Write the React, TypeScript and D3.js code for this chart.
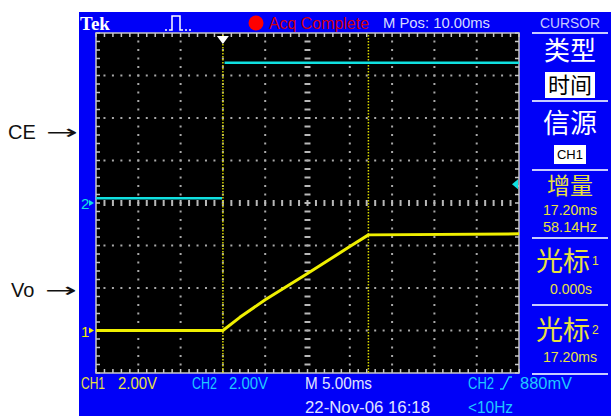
import React from 'react';
import * as d3 from 'd3';

// time base: 5 ms/div, 10 div, cursor 1 at 0
const timeDomain = [-15, 35];
const divDomain = [-4, 4];
const voltsPerDiv = 2;
const ch1Offset = -3; // divisions from centre
const ch2Offset = 0;

const ch1Times = [-15, 0, 2, 5, 10, 15, 17.2, 35];
const ch1Volts = [0, 0, 0.62, 1.45, 2.68, 3.95, 4.5, 4.55];
// CH2 edge is too fast to show, so low and high parts are separate runs
const ch2LowTimes = [-15, -0.1];
const ch2LowVolts = [0.22, 0.22];
const ch2HighTimes = [0.2, 35];
const ch2HighVolts = [6.6, 6.6];
const cursorTimes = [0, 17.2];
const triggerLevel = 0.88;

const W = 613;
const H = 416;
const plot = { left: 96, right: 519, top: 33, bottom: 373 };

const BLUE = '#0000f8';
const TRACE_Y = '#f0f000';
const TRACE_C = '#10e0e0';
const MENU_Y = '#e8e040';
const READOUT_C = '#20c8ff';

const App: React.FC = () => {
  const x = d3.scaleLinear().domain(timeDomain).range([plot.left, plot.right]);
  const yDiv = d3.scaleLinear().domain(divDomain).range([plot.bottom, plot.top]);
  const y1 = (v: number) => yDiv(v / voltsPerDiv + ch1Offset);
  const y2 = (v: number) => yDiv(v / voltsPerDiv + ch2Offset);

  const line = d3.line<[number, number]>();
  const ch1Path = line(ch1Times.map((t, i) => [x(t), y1(ch1Volts[i])]));
  const ch2Low = line(ch2LowTimes.map((t, i) => [x(t), y2(ch2LowVolts[i])]));
  const ch2High = line(ch2HighTimes.map((t, i) => [x(t), y2(ch2HighVolts[i])]));

  const xMinor = d3.range(0, 51).map(i => timeDomain[0] + i); // 1 ms = 1/5 div
  const yMinor = d3.range(0, 41).map(i => divDomain[0] + i / 5);
  const xMajor = d3.range(1, 10).map(i => timeDomain[0] + i * 5);
  const yMajor = d3.range(-3, 4);

  const dots: React.ReactNode[] = [];
  xMajor.forEach((t, i) => {
    const cx = x(t);
    const centre = i === 4;
    yMinor.forEach((d, j) => {
      if (j === 0 || j === yMinor.length - 1) return;
      dots.push(
        centre
          ? <rect key={`v${i}-${j}`} x={cx - 3} y={yDiv(d) - 1} width={6} height={2} fill="#b8b8b8" />
          : <rect key={`v${i}-${j}`} x={cx - 1} y={yDiv(d) - 1} width={2} height={2} fill="#a8a8a8" />
      );
    });
  });
  yMajor.forEach((d, i) => {
    const cy = yDiv(d);
    const centre = d === 0;
    xMinor.forEach((t, j) => {
      if (j === 0 || j === xMinor.length - 1) return;
      dots.push(
        centre
          ? <rect key={`h${i}-${j}`} x={x(t) - 1} y={cy - 3} width={2} height={6} fill="#b8b8b8" />
          : <rect key={`h${i}-${j}`} x={x(t) - 1} y={cy - 1} width={2} height={2} fill="#a8a8a8" />
      );
    });
  });

  const borderTicks: React.ReactNode[] = [];
  xMinor.forEach((t, j) => {
    borderTicks.push(<line key={`bt${j}`} x1={x(t)} x2={x(t)} y1={plot.top} y2={plot.top + 4} stroke="#c8c8c8" strokeWidth={1.5} />);
    borderTicks.push(<line key={`bb${j}`} x1={x(t)} x2={x(t)} y1={plot.bottom} y2={plot.bottom - 4} stroke="#c8c8c8" strokeWidth={1.5} />);
  });
  yMinor.forEach((d, j) => {
    borderTicks.push(<line key={`bl${j}`} x1={plot.left} x2={plot.left + 4} y1={yDiv(d)} y2={yDiv(d)} stroke="#c8c8c8" strokeWidth={1.5} />);
    borderTicks.push(<line key={`br${j}`} x1={plot.right} x2={plot.right - 4} y1={yDiv(d)} y2={yDiv(d)} stroke="#c8c8c8" strokeWidth={1.5} />);
  });

  const sans = "'Liberation Sans', Arial, sans-serif";
  const cjk = "'Noto Sans CJK SC', sans-serif";
  const sepLines = [33, 101, 170, 238, 305, 374];

  return (
    <div style={{ position: 'absolute', left: 0, top: 0 }}>
      <svg width={W} height={H} style={{ display: 'block', background: '#fff' }}>
        {/* scope frame */}
        <rect x={79} y={12} width={532} height={H - 12} fill={BLUE} />
        <rect x={plot.left} y={plot.top} width={plot.right - plot.left} height={plot.bottom - plot.top} fill="#000" />
        {dots}
        <rect x={plot.left} y={plot.top} width={plot.right - plot.left} height={plot.bottom - plot.top} fill="none" stroke="#c8c8c8" strokeWidth={1.5} />
        {borderTicks}

        {/* cursors */}
        {cursorTimes.map((t, i) => (
          <line key={`c${i}`} x1={x(t)} x2={x(t)} y1={plot.top + 2} y2={plot.bottom} stroke="#d8d800" strokeWidth={1.5} strokeDasharray="1.5 1.5" />
        ))}
        {/* trigger position marker */}
        <path d={`M${x(0) - 6},${plot.top + 3} h12 l-6,8 z`} fill="#fff" />

        {/* traces */}
        <path d={ch2Low ?? ''} fill="none" stroke={TRACE_C} strokeWidth={2.5} />
        <path d={ch2High ?? ''} fill="none" stroke={TRACE_C} strokeWidth={2.5} />
        <path d={ch1Path ?? ''} fill="none" stroke={TRACE_Y} strokeWidth={3} strokeLinejoin="round" />

        {/* channel ground markers */}
        <text x={81} y={y1(0) + 6} fill={TRACE_Y} fontFamily={sans} fontSize={15}>1</text>
        <path d={`M${89},${y1(0) - 3} l5,3 l-5,3 z`} fill={TRACE_Y} />
        <text x={81} y={y2(0) + 6} fill={TRACE_C} fontFamily={sans} fontSize={15}>2</text>
        <path d={`M${89},${y2(0) - 3} l5,3 l-5,3 z`} fill={TRACE_C} />
        {/* trigger level marker */}
        <path d={`M${plot.right - 7},${y2(triggerLevel)} l6,-5 v10 z`} fill={TRACE_C} />

        {/* top bar */}
        <text x={80} y={30} fill="#fff" fontFamily="'Liberation Serif', serif" fontWeight="bold" fontSize={19}>Tek</text>
        <path d="M165,30 h2 m2,0 h3 v-14 h8 v14 h3 m2,0 h2 m2,0 h2" fill="none" stroke="#fff" strokeWidth={1.5} />
        <circle cx={256} cy={23} r={7.5} fill="#ff0000" />
        <text x={269} y={29} fill="#d00010" fontFamily={sans} fontSize={16} textLength={100} lengthAdjust="spacingAndGlyphs">Acq Complete</text>
        <text x={383} y={28} fill="#d8dcff" fontFamily={sans} fontSize={15} textLength={107} lengthAdjust="spacingAndGlyphs">M Pos: 10.00ms</text>

        {/* right menu */}
        <text x={570} y={28} fill="#c8ccff" textAnchor="middle" fontFamily={sans} fontSize={15} textLength={60} lengthAdjust="spacingAndGlyphs">CURSOR</text>
        {sepLines.map((yy, i) => (
          <line key={`s${i}`} x1={532} x2={608} y1={yy} y2={yy} stroke="#c8ccff" strokeWidth={2} />
        ))}
        <text x={570} y={60} fill="#fff" textAnchor="middle" fontFamily={cjk} fontSize={26}>类型</text>
        <rect x={545} y={72} width={50} height={26} fill="#fff" />
        <text x={570} y={93} fill="#000" textAnchor="middle" fontFamily={cjk} fontSize={22}>时间</text>
        <text x={570} y={133} fill="#fff" textAnchor="middle" fontFamily={cjk} fontSize={27}>信源</text>
        <rect x={554} y={145} width={32} height={19} fill="#fff" />
        <text x={570} y={159} fill="#000" textAnchor="middle" fontFamily={sans} fontSize={13}>CH1</text>
        <text x={570} y={194} fill={MENU_Y} textAnchor="middle" fontFamily={cjk} fontSize={23}>增量</text>
        <text x={570} y={215} fill={MENU_Y} textAnchor="middle" fontFamily={sans} fontSize={14} textLength={54} lengthAdjust="spacingAndGlyphs">17.20ms</text>
        <text x={570} y={232} fill={MENU_Y} textAnchor="middle" fontFamily={sans} fontSize={14} textLength={54} lengthAdjust="spacingAndGlyphs">58.14Hz</text>
        <text x={563} y={271} fill={MENU_Y} textAnchor="middle" fontFamily={cjk} fontSize={27}>光标</text>
        <text x={592} y={265} fill={MENU_Y} fontFamily={sans} fontSize={12}>1</text>
        <text x={571} y={294} fill={MENU_Y} textAnchor="middle" fontFamily={sans} fontSize={14} textLength={42} lengthAdjust="spacingAndGlyphs">0.000s</text>
        <text x={563} y={340} fill={MENU_Y} textAnchor="middle" fontFamily={cjk} fontSize={27}>光标</text>
        <text x={592} y={334} fill={MENU_Y} fontFamily={sans} fontSize={12}>2</text>
        <text x={570} y={362} fill={MENU_Y} textAnchor="middle" fontFamily={sans} fontSize={14} textLength={54} lengthAdjust="spacingAndGlyphs">17.20ms</text>

        {/* bottom bar */}
        <text x={81} y={389} fill={MENU_Y} fontFamily={sans} fontSize={16} textLength={24} lengthAdjust="spacingAndGlyphs">CH1</text>
        <text x={118} y={389} fill={MENU_Y} fontFamily={sans} fontSize={16} textLength={39} lengthAdjust="spacingAndGlyphs">2.00V</text>
        <text x={192} y={389} fill={READOUT_C} fontFamily={sans} fontSize={16} textLength={25} lengthAdjust="spacingAndGlyphs">CH2</text>
        <text x={229} y={389} fill={READOUT_C} fontFamily={sans} fontSize={16} textLength={39} lengthAdjust="spacingAndGlyphs">2.00V</text>
        <text x={305} y={389} fill="#e0e4ff" fontFamily={sans} fontSize={16} textLength={67} lengthAdjust="spacingAndGlyphs">M 5.00ms</text>
        <text x={468} y={389} fill={READOUT_C} fontFamily={sans} fontSize={16} textLength={26} lengthAdjust="spacingAndGlyphs">CH2</text>
        <path d="M500,389 h3 l6,-12 h3" fill="none" stroke={READOUT_C} strokeWidth={1.5} />
        <text x={520} y={389} fill={READOUT_C} fontFamily={sans} fontSize={16} textLength={52} lengthAdjust="spacingAndGlyphs">880mV</text>
        <text x={305} y={413} fill="#e0e4ff" fontFamily={sans} fontSize={16} textLength={125} lengthAdjust="spacingAndGlyphs">22-Nov-06 16:18</text>
        <text x={468} y={413} fill={READOUT_C} fontFamily={sans} fontSize={16} textLength={45} lengthAdjust="spacingAndGlyphs">&lt;10Hz</text>

        {/* signal annotations */}
        <text x={8} y={139} fill="#111" fontFamily={sans} fontSize={20}>CE</text>
        <text x={46} y={139} fill="#111" fontFamily="'DejaVu Sans', sans-serif" fontSize={20} textLength={32} lengthAdjust="spacingAndGlyphs">→</text>
        <text x={11} y={297} fill="#111" fontFamily={sans} fontSize={20}>Vo</text>
        <text x={45} y={297} fill="#111" fontFamily="'DejaVu Sans', sans-serif" fontSize={20} textLength={32} lengthAdjust="spacingAndGlyphs">→</text>
      </svg>
    </div>
  );
};

export default App;
